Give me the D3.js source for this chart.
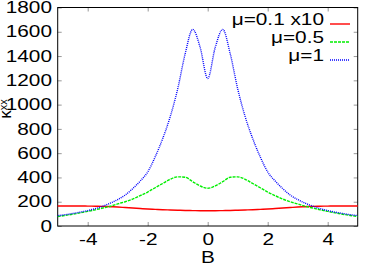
<!DOCTYPE html>
<html>
<head>
<meta charset="utf-8">
<script src="https://cdn.jsdelivr.net/npm/d3@7"></script>
<style>
  body { margin: 0; background: #fff; }
  svg { display: block; font-family: "Liberation Sans", Arial, sans-serif; }
</style>
</head>
<body>
<svg id="chart" width="374" height="268"></svg>
<script>
// B values (x axis)
var bVals = [-5, -4.75, -4.5, -4.25, -4, -3.75, -3.5, -3.25, -3, -2.75, -2.5, -2.25, -2, -1.75, -1.5, -1.25, -1, -0.75, -0.5, -0.25,
             0, 0.25, 0.5, 0.75, 1, 1.25, 1.5, 1.75, 2, 2.25, 2.5, 2.75, 3, 3.25, 3.5, 3.75, 4, 4.25, 4.5, 4.75, 5];

// mu = 0.1 (x10)
var mu01 = [165, 165, 165, 165, 164, 163, 162, 159, 156, 152, 148, 144, 140, 137, 134, 132, 130, 128, 127, 126,
            126, 126, 127, 128, 130, 132, 134, 137, 140, 144, 148, 152, 156, 159, 162, 163, 164, 165, 165, 165, 165];
// mu = 0.5
var mu05 = [78, 87, 97, 108, 120, 133, 148, 163, 182, 200, 222, 250, 280, 315, 350, 385, 405, 402, 365, 330,
            311, 330, 365, 402, 405, 385, 350, 315, 280, 250, 222, 200, 182, 163, 148, 133, 120, 108, 97, 87, 78];
// mu = 1
var mu1 = [85, 93, 103, 114, 127, 143, 163, 188, 218, 255, 308, 370, 445, 570, 720, 900, 1130, 1420, 1620, 1470,
           1215, 1470, 1620, 1420, 1130, 900, 720, 570, 445, 370, 308, 255, 218, 188, 163, 143, 127, 114, 103, 93, 85];

var seriesNames = ["\u03bc=0.1 x10", "\u03bc=0.5", "\u03bc=1"];
var seriesColors = ["#ff0000", "#00ee00", "#0000ff"];
var seriesDash = [null, "3,1", "1,1"];

var xTicks = [-4, -2, 0, 2, 4];
var yTicks = [0, 200, 400, 600, 800, 1000, 1200, 1400, 1600, 1800];

var svg = d3.select("#chart");
var margin = { top: 7.5, right: 16.3, bottom: 42, left: 57.7 };
var width = 374 - margin.left - margin.right;
var height = 268 - margin.top - margin.bottom;
var sx = 1.3; // horizontal stretch of the text

var x = d3.scaleLinear().domain([-5, 5]).range([0, width]);
var y = d3.scaleLinear().domain([0, 1800]).range([height, 0]);

// plain hyphen, no thousands separator
var fmt = d => String(d);

var g = svg.append("g")
  .attr("transform", "translate(" + margin.left + "," + margin.top + ")");

// inward ticks on all four sides
g.append("g")
  .attr("transform", "translate(0," + height + ")")
  .call(d3.axisBottom(x).tickValues(xTicks).tickSize(-4).tickPadding(8).tickFormat(fmt))
  .call(a => a.select(".domain").remove());
g.append("g")
  .call(d3.axisTop(x).tickValues(xTicks).tickSize(-4).tickFormat(""))
  .call(a => a.select(".domain").remove());
g.append("g")
  .call(d3.axisLeft(y).tickValues(yTicks).tickSize(-4).tickPadding(4.4).tickFormat(fmt))
  .call(a => a.select(".domain").remove());
g.append("g")
  .attr("transform", "translate(" + width + ",0)")
  .call(d3.axisRight(y).tickValues(yTicks).tickSize(-4).tickFormat(""))
  .call(a => a.select(".domain").remove());

g.selectAll(".tick line").attr("stroke", "#999");
g.selectAll(".tick text")
  .attr("font-size", "16px")
  .attr("font-family", "Liberation Sans, Arial, sans-serif")
  .attr("fill", "#000")
  .attr("transform", "scale(" + sx + ",1)");

// border
g.append("rect")
  .attr("width", width)
  .attr("height", height)
  .attr("fill", "none")
  .attr("stroke", "#000")
  .attr("stroke-width", 1);

// curves
var allSeries = [mu01, mu05, mu1];
var line = d3.line()
  .x((d, i) => x(bVals[i]))
  .y(d => y(d))
  .curve(d3.curveMonotoneX);

allSeries.forEach(function(s, k) {
  g.append("path")
    .datum(s)
    .attr("fill", "none")
    .attr("stroke", seriesColors[k])
    .attr("stroke-width", 1.4)
    .attr("stroke-dasharray", seriesDash[k])
    .attr("d", line);
});

// legend
var legY = [25, 43, 61];
seriesNames.forEach(function(name, k) {
  svg.append("text")
    .attr("transform", "translate(324," + legY[k] + ") scale(" + sx + ",1)")
    .attr("text-anchor", "end")
    .attr("font-size", "16px")
    .text(name);
  svg.append("line")
    .attr("x1", 330).attr("x2", 350)
    .attr("y1", legY[k] - 1).attr("y2", legY[k] - 1)
    .attr("stroke", seriesColors[k])
    .attr("stroke-width", 1.4)
    .attr("stroke-dasharray", seriesDash[k]);
});

// axis labels
svg.append("text")
  .attr("transform", "translate(208,263) scale(" + sx + ",1)")
  .attr("text-anchor", "middle")
  .attr("font-size", "16px")
  .text("B");

var yl = svg.append("text")
  .attr("transform", "translate(11,109) rotate(-90)")
  .attr("text-anchor", "middle")
  .attr("font-size", "17px");
yl.append("tspan").text("\u03ba");
yl.append("tspan").attr("dy", -4).attr("font-size", "11px").text("xx");
</script>
</body>
</html>
